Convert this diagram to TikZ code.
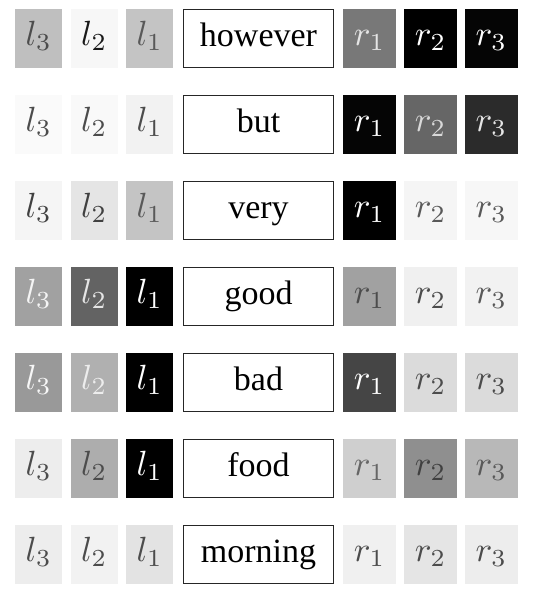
\documentclass[tikz,border=0pt]{standalone}
\usepackage[no-math]{fontspec}
\newfontfamily\wordfont{Liberation Serif}
\newcommand\bigmath[1]{\scalebox{3.5}{$#1$}}
\begin{document}
\begin{tikzpicture}[x=1pt,y=-1pt]
\tikzset{
  cell/.style={minimum height=59pt, inner sep=0pt, outer sep=0pt,
    text height=23pt, text depth=9pt, font=\fontsize{10}{12}\selectfont},
  lcell/.style={cell, minimum width=47.3pt},
  rcell/.style={cell, minimum width=52.4pt},
  wordbox/.style={draw=black!85, line width=1.2pt, fill=white, minimum width=150.4pt,
    minimum height=57.8pt, inner sep=0pt, text height=24pt, text depth=8pt,
    font=\wordfont\fontsize{34}{40}\selectfont}
}
\useasboundingbox (0,0) rectangle (546,608);
% rows: name / y / word
\foreach \r/\y/\w in {a/38.5/however, b/124.5/but, c/210.5/very, d/296.5/good, e/382.5/bad, f/468.5/food, g/554.5/morning}{
  \node[wordbox] (w\r) at (258.5,\y) {\w};
}
% left cells: node / x / y / fill / text / label
\foreach \nm/\cx/\cy/\f/\t/\lab in {
  l3a/38.7/38.5/25/70/l_3, l2a/94.2/38.5/3/90/l_2, l1a/149.8/38.5/23/65/l_1,
  l3b/38.7/124.5/2/70/l_3, l2b/94.2/124.5/2.5/70/l_2, l1b/149.8/124.5/5/70/l_1,
  l3c/38.7/210.5/4/75/l_3, l2c/94.2/210.5/10/75/l_2, l1c/149.8/210.5/23/65/l_1,
  l3d/38.7/296.5/37/4/l_3, l2d/94.2/296.5/61/10/l_2, l1d/149.8/296.5/100/0/l_1,
  l3e/38.7/382.5/40/3/l_3, l2e/94.2/382.5/31/7/l_2, l1e/149.8/382.5/100/0/l_1,
  l3f/38.7/468.5/7/70/l_3, l2f/94.2/468.5/32/70/l_2, l1f/149.8/468.5/100/0/l_1,
  l3g/38.7/554.5/7/70/l_3, l2g/94.2/554.5/5/70/l_2, l1g/149.8/554.5/11/70/l_1}{
  \node[lcell, fill=black!\f, text=black!\t] (\nm) at (\cx,\cy) {\bigmath{\lab}};
}
% right cells
\foreach \nm/\cx/\cy/\f/\t/\lab in {
  r1a/369.5/38.5/53/10/r_1, r2a/430.5/38.5/100/0/r_2, r3a/491.3/38.5/98/0/r_3,
  r1b/369.5/124.5/98/0/r_1, r2b/430.5/124.5/60/15/r_2, r3b/491.3/124.5/83/10/r_3,
  r1c/369.5/210.5/100/0/r_1, r2c/430.5/210.5/4/65/r_2, r3c/491.3/210.5/3/65/r_3,
  r1d/369.5/296.5/37/70/r_1, r2d/430.5/296.5/6/70/r_2, r3d/491.3/296.5/5/65/r_3,
  r1e/369.5/382.5/73/0/r_1, r2e/430.5/382.5/14/70/r_2, r3e/491.3/382.5/14/70/r_3,
  r1f/369.5/468.5/19/60/r_1, r2f/430.5/468.5/44/75/r_2, r3f/491.3/468.5/28/65/r_3,
  r1g/369.5/554.5/6/70/r_1, r2g/430.5/554.5/10/70/r_2, r3g/491.3/554.5/7/70/r_3}{
  \node[rcell, fill=black!\f, text=black!\t] (\nm) at (\cx,\cy) {\bigmath{\lab}};
}
\end{tikzpicture}
\end{document}
